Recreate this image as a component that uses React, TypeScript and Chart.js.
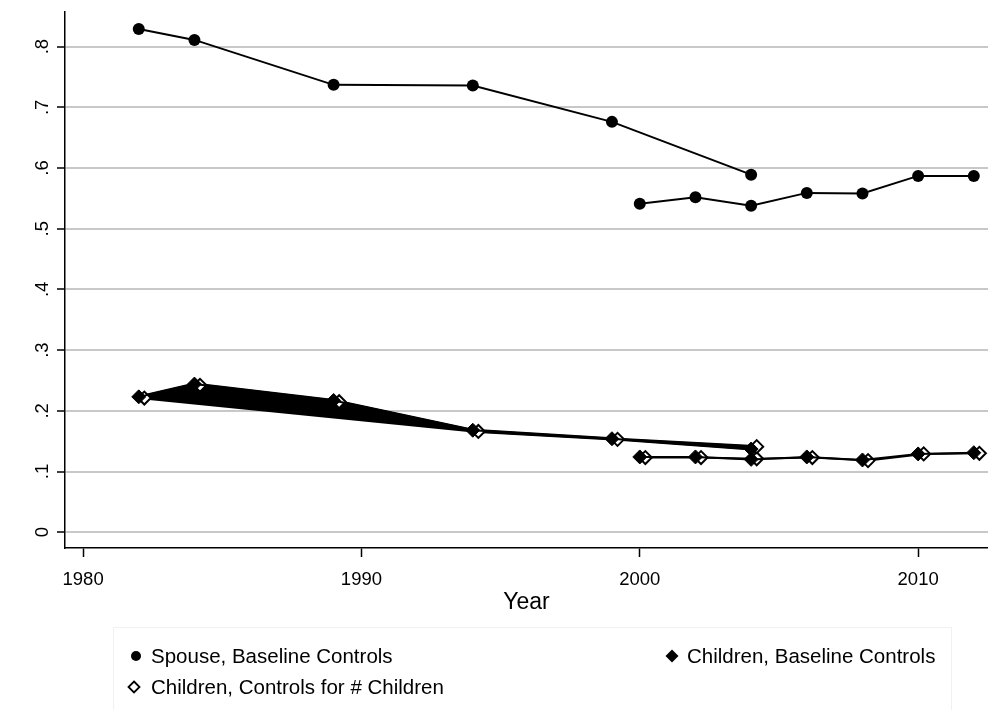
import React, { useEffect, useRef } from "react";
import { Chart, registerables } from "chart.js";

Chart.register(...registerables);

// ---- data ----
const spouseYears1 = [1982, 1984, 1989, 1994, 1999, 2004];
const spouseValues1 = [0.829, 0.811, 0.737, 0.736, 0.676, 0.589];
const spouseYears2 = [2000, 2002, 2004, 2006, 2008, 2010, 2012];
const spouseValues2 = [0.541, 0.552, 0.538, 0.559, 0.558, 0.587, 0.587];

const childYears1 = [1982, 1984, 1989, 1994, 1999, 2004];
const childBaseValues1 = [0.223, 0.244, 0.217, 0.168, 0.154, 0.137];
const childNumValues1 = [0.221, 0.242, 0.215, 0.166, 0.153, 0.141];
const childYears2 = [2000, 2002, 2004, 2006, 2008, 2010, 2012];
const childBaseValues2 = [0.124, 0.124, 0.12, 0.124, 0.119, 0.129, 0.131];
const childNumValues2 = [0.123, 0.123, 0.121, 0.123, 0.118, 0.129, 0.13];
const hollowOffset = 0.2; // hollow-diamond markers sit slightly right of solid ones

const yTickValues = [0, 0.1, 0.2, 0.3, 0.4, 0.5, 0.6, 0.7, 0.8];
const yTickLabels = ["0", ".1", ".2", ".3", ".4", ".5", ".6", ".7", ".8"];
const xTickValues = [1980, 1990, 2000, 2010];
const xTickLabels = ["1980", "1990", "2000", "2010"];

const legendLabels = [
  "Spouse, Baseline Controls",
  "Children, Baseline Controls",
  "Children, Controls for # Children",
];

const FONT = "'Liberation Sans', Arial, sans-serif";

const pts = (xs: number[], ys: number[], dx = 0) => xs.map((x, i) => ({ x: x + dx, y: ys[i] }));

// polygon outline artefact between the two children series (first period)
const bandIdx = [5, 4, 3, 0];
const bandPoints = [
  ...pts(childYears1, childBaseValues1),
  ...bandIdx.map((i) => ({ x: childYears1[i] + hollowOffset, y: childNumValues1[i] })),
];

const legendPlugin = {
  id: "stataLegend",
  afterDraw(chart: any) {
    const ctx = chart.ctx;
    ctx.save();
    ctx.strokeStyle = "#eef2f3";
    ctx.lineWidth = 1;
    ctx.strokeRect(113.5, 627.5, 838, 90);
    ctx.font = `20.5px ${FONT}`;
    ctx.fillStyle = "#000";
    ctx.textBaseline = "middle";
    ctx.textAlign = "left";
    ctx.beginPath();
    ctx.arc(136, 656, 5, 0, Math.PI * 2);
    ctx.fill();
    ctx.fillText(legendLabels[0], 151, 657);
    const diamond = (cx: number, cy: number, r: number) => {
      ctx.beginPath();
      ctx.moveTo(cx, cy - r);
      ctx.lineTo(cx + r, cy);
      ctx.lineTo(cx, cy + r);
      ctx.lineTo(cx - r, cy);
      ctx.closePath();
    };
    diamond(672, 656, 6.5);
    ctx.fill();
    ctx.fillText(legendLabels[1], 687, 657);
    diamond(134, 687, 5.5);
    ctx.lineWidth = 1.8;
    ctx.strokeStyle = "#000";
    ctx.stroke();
    ctx.fillText(legendLabels[2], 151, 688);
    ctx.restore();
  },
};

export default function App() {
  const ref = useRef<HTMLCanvasElement>(null);
  useEffect(() => {
    if (!ref.current) return;
    const solid = {
      pointStyle: "rectRot",
      pointRadius: 7,
      pointBackgroundColor: "#000",
      pointBorderColor: "#000",
      pointBorderWidth: 1,
      borderColor: "#000",
      borderWidth: 2,
      showLine: true,
      order: 1,
    };
    const hollow = {
      pointStyle: "rectRot",
      pointRadius: 6.5,
      pointBackgroundColor: "#fff",
      pointBorderColor: "#000",
      pointBorderWidth: 2,
      borderColor: "#000",
      borderWidth: 2,
      showLine: true,
      order: 2,
    };
    const circ = {
      pointStyle: "circle",
      pointRadius: 6,
      pointBackgroundColor: "#000",
      pointBorderColor: "#000",
      pointBorderWidth: 0,
      borderColor: "#000",
      borderWidth: 2,
      showLine: true,
      order: 0,
    };
    const chart = new Chart(ref.current, {
      type: "scatter",
      data: {
        datasets: [
          { label: legendLabels[0], data: pts(spouseYears1, spouseValues1), ...circ },
          { label: legendLabels[0] + " b", data: pts(spouseYears2, spouseValues2), ...circ },
          {
            label: "band",
            data: bandPoints,
            showLine: true,
            fill: "shape",
            backgroundColor: "#000",
            borderColor: "#000",
            borderWidth: 3,
            pointRadius: 0,
            order: 3,
          },
          { label: legendLabels[2], data: pts(childYears1, childNumValues1, hollowOffset), ...hollow },
          { label: legendLabels[2] + " b", data: pts(childYears2, childNumValues2, hollowOffset), ...hollow },
          { label: legendLabels[1], data: pts(childYears1, childBaseValues1), ...solid },
          { label: legendLabels[1] + " b", data: pts(childYears2, childBaseValues2), ...solid },
        ] as any,
      },
      options: {
        animation: false,
        responsive: false,
        clip: false as any,
        layout: { autoPadding: false, padding: { top: 12, left: 0, right: 0, bottom: 94 } },
        plugins: { legend: { display: false }, tooltip: { enabled: false } },
        scales: {
          x: {
            type: "linear",
            min: 1979.35,
            max: 2012.51,
            afterBuildTicks: (s: any) => {
              s.ticks = xTickValues.map((v) => ({ value: v }));
            },
            afterFit: (s: any) => {
              s.height = 68;
              s.paddingLeft = 0;
              s.paddingRight = 0;
            },
            ticks: {
              autoSkip: false,
              maxRotation: 0,
              color: "#000",
              padding: 12,
              font: { family: FONT, size: 18.5 },
              callback: (v: any) => xTickLabels[xTickValues.indexOf(Number(v))] ?? "",
            },
            grid: {
              drawOnChartArea: false,
              drawTicks: true,
              tickLength: 9,
              tickColor: "#000",
              tickWidth: 1.5,
            },
            border: { display: true, color: "#000", width: 1.5 },
            title: {
              display: true,
              text: "Year",
              color: "#000",
              font: { family: FONT, size: 23 },
              padding: 0,
            },
          },
          y: {
            type: "linear",
            min: -0.026,
            max: 0.857,
            afterBuildTicks: (s: any) => {
              s.ticks = yTickValues.map((v) => ({ value: v }));
            },
            afterFit: (s: any) => {
              s.width = 65;
              s.paddingTop = 0;
              s.paddingBottom = 0;
            },
            ticks: {
              autoSkip: false,
              minRotation: 90,
              maxRotation: 90,
              crossAlign: "center",
              color: "#000",
              padding: 6,
              font: { family: FONT, size: 18.5 },
              callback: (v: any) => {
                const i = yTickValues.findIndex((t) => Math.abs(t - Number(v)) < 1e-9);
                return i >= 0 ? yTickLabels[i] : "";
              },
            },
            grid: {
              color: "#c8c8c8",
              lineWidth: 2,
              drawTicks: true,
              tickLength: 8,
              tickColor: "#000",
              tickWidth: 1.5,
            },
            border: { display: true, color: "#000", width: 1.5 },
          },
        },
      } as any,
      plugins: [legendPlugin],
    });
    return () => chart.destroy();
  }, []);
  return (
    <div style={{ position: "fixed", left: 0, top: 0, width: 988, height: 710, background: "#fff" }}>
      <canvas ref={ref} width={988} height={710} style={{ display: "block" }} />
    </div>
  );
}
